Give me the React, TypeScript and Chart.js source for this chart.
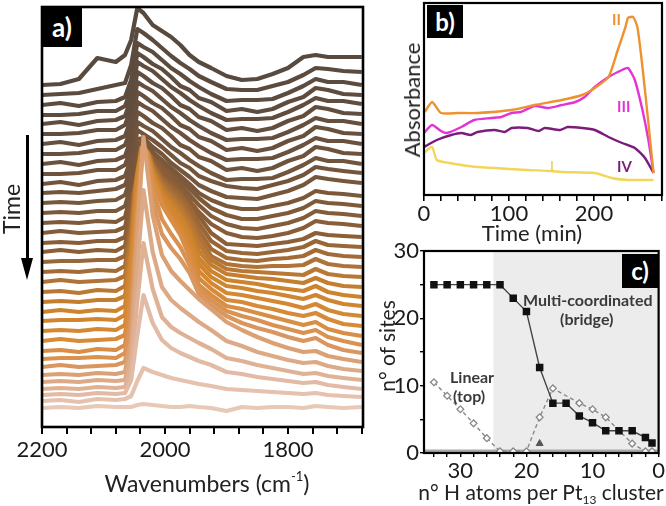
import React, { useEffect, useRef } from "react";
import { Chart, registerables } from "chart.js";
Chart.register(...registerables);

const FONT = "Lato, 'Open Sans', sans-serif";

// ---------- panel a: stacked IR spectra (offset display, arbitrary units) ----------
const wavenumbers = [2200, 2170, 2140, 2110, 2080, 2065, 2055, 2045, 2035, 2020, 2005, 1990, 1975, 1960, 1945, 1925, 1900, 1875, 1850, 1825, 1800, 1775, 1755, 1735, 1710, 1680];

const S0 = [19, 20, 19, 21, 20, 20, 20, 22, 23, 22, 21, 20, 20, 21, 20, 19, 16, 20, 19, 20, 20, 19, 21, 20, 19, 20];
const S1 = [26, 27, 25, 28, 27, 28, 31, 46, 59, 55, 52, 49, 47, 45, 43, 41, 38, 37, 36, 35, 34, 33, 34, 32, 31, 30];
const S2 = [32, 33, 32, 34, 33, 34, 47, 92, 132, 104, 87, 79, 74, 70, 66, 62, 55, 53, 50, 48, 46, 44, 45, 42, 40, 38];
const S3 = [38, 39, 38, 40, 39, 40, 60, 126, 184, 138, 110, 100, 94, 89, 84, 78, 69, 66, 62, 59, 56, 53, 54, 51, 49, 47];
const S4 = [45, 46, 45, 47, 46, 47, 74, 160, 237, 175, 140, 127, 119, 112, 105, 97, 86, 81, 75, 71, 67, 64, 65, 61, 58, 56];
const S5 = [52, 53, 52, 54, 53, 55, 88, 195, 290, 212, 172, 156, 146, 137, 128, 118, 105, 97, 90, 84, 79, 75, 76, 71, 68, 65];
const S6 = [60, 62, 60, 61, 62, 65, 106, 205, 289, 225, 193, 179, 168, 154, 133, 122, 111, 104, 99, 95, 90, 86, 89, 82, 77, 74];
const S7 = [68, 69, 69, 70, 69, 74, 113, 213, 291, 237, 208, 193, 180, 162, 137, 127, 116, 111, 107, 102, 98, 94, 97, 90, 86, 82];
const S8 = [76, 77, 75, 78, 77, 82, 130, 226, 290, 247, 222, 207, 192, 170, 142, 132, 121, 118, 114, 110, 106, 102, 105, 98, 94, 91];
const S9 = [86, 88, 86, 87, 88, 92, 143, 233, 290, 249, 225, 210, 196, 176, 149, 138, 127, 125, 121, 118, 114, 111, 114, 108, 103, 101];
const S10 = [96, 97, 96, 98, 97, 102, 154, 242, 290, 251, 228, 214, 201, 181, 156, 144, 134, 132, 129, 126, 123, 119, 123, 117, 113, 111];
const S11 = [106, 107, 107, 108, 107, 112, 161, 250, 290, 253, 231, 218, 205, 187, 163, 150, 141, 139, 136, 134, 131, 128, 132, 127, 123, 121];
const S12 = [115, 117, 115, 117, 116, 121, 171, 255, 290, 255, 234, 222, 210, 192, 169, 156, 147, 145, 143, 140, 138, 136, 141, 135, 132, 130];
const S13 = [125, 126, 125, 127, 127, 131, 178, 260, 290, 257, 237, 226, 214, 198, 176, 162, 153, 151, 149, 148, 146, 144, 149, 144, 141, 140];
const S14 = [135, 136, 134, 137, 136, 141, 186, 264, 290, 259, 240, 230, 219, 203, 183, 167, 158, 156, 155, 154, 153, 152, 158, 153, 151, 150];
const S15 = [145, 147, 145, 146, 147, 151, 193, 267, 290, 261, 244, 233, 223, 209, 190, 171, 163, 161, 160, 161, 161, 162, 168, 163, 161, 160];
const S16 = [155, 156, 155, 157, 156, 161, 200, 269, 290, 263, 247, 237, 228, 214, 197, 178, 169, 167, 166, 168, 169, 171, 177, 173, 171, 170];
const S17 = [165, 166, 166, 167, 167, 171, 207, 271, 290, 265, 250, 241, 233, 220, 204, 186, 176, 174, 173, 175, 177, 180, 186, 182, 181, 180];
const S18 = [175, 177, 175, 177, 176, 181, 214, 273, 290, 267, 253, 245, 237, 226, 211, 194, 183, 182, 181, 183, 185, 188, 194, 192, 191, 190];
const S19 = [184, 185, 184, 186, 186, 190, 221, 274, 290, 271, 258, 248, 237, 226, 215, 203, 194, 190, 189, 191, 194, 199, 206, 204, 203, 201];
const S20 = [194, 196, 194, 195, 196, 200, 228, 276, 290, 273, 261, 252, 242, 232, 222, 211, 203, 199, 198, 201, 204, 209, 216, 214, 213, 211];
const S21 = [204, 205, 204, 206, 205, 210, 234, 276, 289, 274, 264, 255, 247, 238, 229, 219, 212, 208, 208, 211, 214, 219, 226, 224, 223, 221];
const S22 = [214, 215, 214, 216, 216, 221, 242, 281, 287, 275, 267, 259, 251, 243, 234, 227, 221, 218, 218, 221, 224, 229, 236, 234, 233, 231];
const S23 = [224, 225, 224, 226, 227, 232, 250, 288, 289, 280, 273, 264, 257, 250, 242, 236, 230, 229, 228, 232, 236, 242, 250, 248, 246, 244];
const S24 = [234, 235, 234, 236, 238, 242, 259, 297, 293, 287, 280, 272, 264, 259, 251, 246, 241, 239, 238, 242, 246, 252, 260, 258, 256, 254];
const S25 = [243, 245, 242, 246, 247, 251, 268, 305, 301, 296, 288, 280, 274, 267, 261, 254, 247, 248, 248, 249, 255, 262, 269, 266, 266, 263];
const S26 = [253, 253, 254, 257, 257, 262, 278, 315, 311, 304, 299, 291, 282, 278, 270, 266, 257, 259, 256, 259, 266, 271, 280, 278, 274, 273];
const S27 = [263, 265, 262, 266, 267, 271, 288, 325, 321, 316, 308, 300, 294, 287, 281, 274, 267, 268, 268, 269, 275, 282, 289, 286, 286, 283];
const S28 = [273, 273, 274, 277, 277, 282, 298, 335, 331, 324, 319, 311, 302, 298, 290, 286, 277, 279, 276, 279, 286, 291, 300, 298, 294, 293];
const S29 = [283, 285, 282, 286, 287, 291, 308, 345, 341, 336, 328, 320, 314, 307, 301, 294, 287, 288, 288, 289, 295, 302, 309, 306, 306, 303];
const S30 = [293, 293, 294, 297, 297, 302, 318, 355, 351, 344, 339, 331, 322, 318, 310, 306, 297, 299, 296, 299, 306, 311, 320, 318, 314, 313];
const S31 = [303, 305, 302, 306, 307, 311, 328, 365, 361, 356, 348, 340, 334, 327, 321, 314, 307, 308, 308, 309, 315, 322, 329, 326, 326, 323];
const S32 = [312, 312, 313, 316, 316, 321, 337, 374, 370, 363, 358, 350, 341, 337, 329, 325, 316, 318, 315, 318, 325, 330, 339, 337, 333, 332];
const S33 = [322, 324, 321, 325, 326, 330, 347, 384, 380, 375, 367, 359, 353, 346, 340, 333, 326, 327, 327, 328, 334, 341, 348, 345, 345, 342];
const S34 = [332, 333, 334, 338, 342, 344, 362, 398, 394, 387, 379, 371, 364, 358, 351, 345, 338, 337, 337, 341, 345, 352, 359, 358, 356, 355];
const S35 = [342, 343, 348, 369, 365, 372, 387, 419, 414, 402, 396, 390, 382, 372, 365, 359, 351, 347, 348, 353, 359, 370, 372, 370, 370, 370];

const spectra = [S0, S1, S2, S3, S4, S5, S6, S7, S8, S9, S10, S11, S12, S13, S14, S15, S16, S17, S18, S19, S20, S21, S22, S23, S24, S25, S26, S27, S28, S29, S30, S31, S32, S33, S34, S35];

// drawing layers (first = on top): light late spectra, then dark early ones, then the orange middle ones
const layerOrder = [0, 1, 2, 3, 4, 5, 35, 34, 33, 32, 31, 30, 29, 28, 27, 26, 25, 24, 23, 22, 6, 7, 8, 9, 10, 11, 12, 13, 14, 15, 16, 17, 18, 19, 20, 21];

// colour anchors (spectrum index -> rgb), bottom (light peach) to top (dark brown)
const colorAnchors: [number, number[]][] = [
  [0, [232, 200, 182]],
  [2, [226, 186, 165]],
  [4, [220, 170, 135]],
  [6, [218, 150, 95]],
  [9, [215, 138, 55]],
  [12, [205, 132, 45]],
  [15, [175, 115, 55]],
  [18, [140, 95, 55]],
  [22, [122, 88, 58]],
  [26, [110, 82, 60]],
  [30, [98, 78, 62]],
  [35, [88, 74, 62]],
];

function colorFor(k: number): string {
  for (let i = 0; i < colorAnchors.length - 1; i++) {
    const [k0, c0] = colorAnchors[i];
    const [k1, c1] = colorAnchors[i + 1];
    if (k >= k0 && k <= k1) {
      const t = (k - k0) / (k1 - k0);
      const c = c0.map((v, j) => Math.round(v + (c1[j] - v) * t));
      return `rgb(${c[0]},${c[1]},${c[2]})`;
    }
  }
  return "rgb(88,74,62)";
}

// ---------- panel b: band absorbance vs time ----------
const timeII = [1, 9.5, 20, 40, 63, 103, 130, 162, 186, 201, 217, 228, 237, 240, 246, 251, 257, 264, 270];
const absII = [83, 93, 82, 82, 82, 85, 90, 95, 100, 107, 118, 145, 168, 177, 178, 168, 128, 72, 22];
const timeIII = [0, 9.5, 20, 27, 44, 59, 79, 91, 103, 114, 130, 146, 162, 178, 189, 201, 217, 233, 240, 248, 257, 264, 270];
const absIII = [62, 70, 64, 62, 68, 75, 77, 78, 82, 83, 89, 87, 90, 93, 98, 108, 118, 125, 127, 115, 85, 55, 22];
const timeIV = [0, 15, 32, 44, 55, 63, 83, 95, 103, 122, 135, 142, 160, 169, 186, 201, 217, 233, 248, 260, 270];
const absIV = [48, 55, 60, 62, 60, 63, 65, 63, 67, 67, 64, 67, 65, 68, 67, 65, 58, 52, 47, 37, 22];
const timeI = [0, 9.5, 15, 30, 44, 63, 83, 100, 122, 150, 162, 201, 221, 240, 255, 270];
const absI = [42, 48, 35, 32, 30, 28, 27, 26, 25, 24, 23, 22, 17, 15, 15, 15];

// ---------- panel c: number of sites vs H atoms ----------
const hMulti = [34, 32, 30, 28, 26, 24, 22, 20, 18, 16, 14, 12, 10, 8, 6, 4, 2, 1];
const sitesMulti = [25, 25, 25, 25, 25, 25, 23, 21, 12.7, 7.4, 7.4, 5.5, 4.5, 3.3, 3.3, 3.3, 2.3, 1.5];
const hLinear = [34, 32, 30, 28, 26, 24, 22, 20, 18, 16, 12, 10, 8, 4, 2, 1];
const sitesLinear = [10.5, 8.5, 6.5, 4.4, 2.2, 0.25, 0.25, 0.25, 5.3, 9.6, 7.4, 6.5, 5.3, 1.4, 0.25, 0.25];
const hTriangle = [18];
const sitesTriangle = [1.4];
const shadeFrom = 25;

const pts = (xs: number[], ys: number[]) => xs.map((x, i) => ({ x, y: ys[i] }));

const framePlugin = {
  id: "frame",
  afterDatasetsDraw(chart: any, _args: any, opts: any) {
    const { ctx, chartArea: a } = chart;
    ctx.save();
    ctx.strokeStyle = "#000";
    ctx.lineWidth = opts.width || 2;
    ctx.strokeRect(a.left, a.top, a.right - a.left, a.bottom - a.top);
    ctx.restore();
  },
};

const shadePlugin = {
  id: "shade",
  beforeDatasetsDraw(chart: any) {
    const { ctx, chartArea: a, scales } = chart;
    const x0 = scales.x.getPixelForValue(shadeFrom);
    ctx.save();
    ctx.fillStyle = "#ececec";
    ctx.fillRect(x0, a.top, a.right - x0, a.bottom - a.top);
    ctx.strokeStyle = "#a8a8a8";
    ctx.lineWidth = 3;
    ctx.beginPath();
    ctx.moveTo(a.left, a.bottom - 2);
    ctx.lineTo(a.right, a.bottom - 2);
    ctx.stroke();
    ctx.restore();
  },
};

const tickFont = { family: FONT, size: 22 };

function baseOptions(padding: any) {
  return {
    responsive: false,
    animation: false as const,
    events: [] as any[],
    layout: { padding, autoPadding: false },
  };
}

export default function App() {
  const refA = useRef<HTMLCanvasElement>(null);
  const refB = useRef<HTMLCanvasElement>(null);
  const refC = useRef<HTMLCanvasElement>(null);

  useEffect(() => {
    const chartA = new Chart(refA.current as HTMLCanvasElement, {
      type: "line",
      data: {
        datasets: layerOrder.map((k) => ({
          data: pts(wavenumbers, spectra[k]),
          borderColor: colorFor(k),
          borderWidth: 4.2,
          pointRadius: 0,
          tension: 0,
          fill: false,
          borderJoinStyle: "round" as const,
        })),
      },
      options: {
        ...baseOptions({ left: 42, right: 32, top: 7, bottom: 0 }),
        scales: {
          x: {
            type: "linear",
            min: 1678,
            max: 2200,
            reverse: true,
            border: { display: false },
            grid: { drawOnChartArea: false, drawTicks: true, tickLength: 7, color: "#000", lineWidth: 2 },
            ticks: {
              stepSize: 40,
              includeBounds: false,
              autoSkip: false,
              maxRotation: 0,
              padding: 3,
              color: "#1a1a1a",
              font: tickFont,
              callback: (v: any) => (Number(v) % 200 === 0 ? String(v) : ""),
            },
            afterFit: (s: any) => { s.height = 79; },
          },
          y: { display: false, min: 0, max: 420 },
        },
        plugins: { legend: { display: false }, tooltip: { enabled: false }, frame: { width: 2.6 } } as any,
      } as any,
      plugins: [framePlugin],
    });

    const lineDs = (xs: number[], ys: number[], color: string) => ({
      data: pts(xs, ys),
      borderColor: color,
      borderWidth: 2.4,
      pointRadius: 0,
      tension: 0.2,
      fill: false,
    });

    const chartB = new Chart(refB.current as HTMLCanvasElement, {
      type: "line",
      data: {
        datasets: [
          lineDs(timeII, absII, "#ee9230"),
          lineDs(timeIII, absIII, "#e234d6"),
          lineDs(timeIV, absIV, "#7a1c7a"),
          lineDs(timeI, absI, "#f2d65a"),
        ],
      },
      options: {
        ...baseOptions({ left: 29, right: 4, top: 3, bottom: 0 }),
        scales: {
          x: {
            type: "linear",
            min: 0,
            max: 280,
            border: { display: false },
            grid: { drawOnChartArea: false, drawTicks: true, tickLength: 6, color: "#000", lineWidth: 1.6 },
            ticks: {
              stepSize: 20,
              includeBounds: false,
              autoSkip: false,
              maxRotation: 0,
              padding: 0,
              color: "#1a1a1a",
              font: tickFont,
              callback: (v: any) => (Number(v) % 100 === 0 ? String(v) : ""),
            },
            afterFit: (s: any) => { s.height = 55; },
          },
          y: { display: false, min: 0, max: 192 },
        },
        plugins: { legend: { display: false }, tooltip: { enabled: false }, frame: { width: 2.2 } } as any,
      } as any,
      plugins: [framePlugin],
    });

    const chartC = new Chart(refC.current as HTMLCanvasElement, {
      type: "line",
      data: {
        datasets: [
          {
            data: pts(hMulti, sitesMulti),
            borderColor: "#454545",
            borderWidth: 1.4,
            pointStyle: "rect",
            pointRadius: 5.3,
            pointBackgroundColor: "#111",
            pointBorderColor: "#111",
            pointBorderWidth: 0,
            tension: 0,
            fill: false,
          },
          {
            data: pts(hTriangle, sitesTriangle),
            showLine: false,
            pointStyle: "triangle",
            pointRadius: 4,
            pointBackgroundColor: "#555",
            pointBorderColor: "#555",
            borderColor: "#555",
          },
          {
            data: pts(hLinear, sitesLinear),
            borderColor: "#8a8a8a",
            borderWidth: 1.4,
            borderDash: [4, 3],
            pointStyle: "rectRot",
            pointRadius: 3.4,
            pointBackgroundColor: "#fff",
            pointBorderColor: "#888",
            pointBorderWidth: 1.3,
            tension: 0,
            fill: false,
          },
        ],
      },
      options: {
        ...baseOptions({ left: 0, right: 6, top: 15, bottom: 0 }),
        scales: {
          x: {
            type: "linear",
            min: 0,
            max: 35.5,
            reverse: true,
            border: { display: false },
            grid: { drawOnChartArea: false, drawTicks: true, tickLength: 4, color: "#000", lineWidth: 1.4 },
            ticks: {
              stepSize: 2,
              includeBounds: false,
              autoSkip: false,
              maxRotation: 0,
              padding: 1,
              color: "#1a1a1a",
              font: tickFont,
              callback: (v: any) => (Number(v) % 10 === 0 ? String(v) : ""),
            },
            afterFit: (s: any) => { s.height = 53; },
          },
          y: {
            type: "linear",
            min: 0,
            max: 30,
            border: { display: false },
            grid: { drawOnChartArea: false, drawTicks: true, tickLength: 4, color: "#000", lineWidth: 1.4 },
            ticks: {
              stepSize: 5,
              autoSkip: false,
              padding: 1,
              color: "#1a1a1a",
              font: tickFont,
              callback: (v: any) => (Number(v) % 10 === 0 ? String(v) : ""),
            },
            afterFit: (s: any) => { s.width = 39; },
          },
        },
        plugins: { legend: { display: false }, tooltip: { enabled: false }, frame: { width: 2.2 } } as any,
      } as any,
      plugins: [shadePlugin, framePlugin],
    });

    return () => {
      chartA.destroy();
      chartB.destroy();
      chartC.destroy();
    };
  }, []);

  const abs = (s: React.CSSProperties): React.CSSProperties => ({ position: "absolute", fontFamily: FONT, lineHeight: 1, whiteSpace: "nowrap", ...s });
  const box = (left: number, top: number, w: number, h: number, text: string, size: number) => (
    <div style={abs({ left, top, width: w, height: h, background: "#000", color: "#fff", fontWeight: 700, fontSize: size, display: "flex", alignItems: "center", justifyContent: "center" })}>{text}</div>
  );

  return (
    <div style={{ position: "fixed", left: 0, top: 0, width: 666, height: 506, background: "#fff", overflow: "hidden" }}>
      <canvas ref={refA} width={395} height={506} style={{ position: "absolute", left: 0, top: 0, width: 395, height: 506 }} />
      <canvas ref={refB} width={271} height={250} style={{ position: "absolute", left: 395, top: 0, width: 271, height: 250 }} />
      <canvas ref={refC} width={281} height={270} style={{ position: "absolute", left: 385, top: 236, width: 281, height: 270 }} />

      {box(42, 7, 40, 40, "a)", 26)}
      {box(427, 5, 36, 33, "b)", 24)}
      {box(622, 254, 36, 34, "c)", 24)}

      {/* Time arrow */}
      <div style={abs({ left: 10.5, top: 209, fontSize: 23, color: "#222", transform: "translate(-50%,-50%) rotate(-90deg)" })}>Time</div>
      <div style={{ position: "absolute", left: 25.5, top: 135, width: 3, height: 128, background: "#000" }} />
      <div style={{ position: "absolute", left: 21, top: 258, width: 0, height: 0, borderLeft: "6px solid transparent", borderRight: "6px solid transparent", borderTop: "22px solid #000" }} />

      <div style={abs({ left: 207, top: 483, fontSize: 23, color: "#222", transform: "translate(-50%,-50%)" })}>
        Wavenumbers (cm<sup style={{ fontSize: 13, verticalAlign: "top", position: "relative", top: -2 }}>-1</sup>)
      </div>

      <div style={abs({ left: 412, top: 100, fontSize: 22, color: "#222", transform: "translate(-50%,-50%) rotate(-90deg)" })}>Absorbance</div>
      <div style={abs({ left: 532, top: 233, fontSize: 22, color: "#222", transform: "translate(-50%,-50%)" })}>Time (min)</div>
      <div style={abs({ left: 612, top: 12, fontSize: 15, fontWeight: 700, color: "#ee9230" })}>II</div>
      <div style={abs({ left: 617, top: 99, fontSize: 15, fontWeight: 700, color: "#e234d6" })}>III</div>
      <div style={abs({ left: 617, top: 159, fontSize: 15, fontWeight: 700, color: "#7a1c7a" })}>IV</div>
      <div style={abs({ left: 550, top: 159, fontSize: 14, color: "#e8c840" })}>I</div>

      <div style={abs({ left: 386, top: 346, fontSize: 21, color: "#222", transform: "translate(-50%,-50%) rotate(-90deg)" })}>n° of sites</div>
      <div style={abs({ left: 541, top: 491, fontSize: 21, color: "#222", transform: "translate(-50%,-50%)" })}>
        n° H atoms per Pt<sub style={{ fontSize: 12, position: "relative", top: 4, verticalAlign: "baseline" }}>13</sub> cluster
      </div>
      <div style={abs({ left: 523, top: 292, fontSize: 16, fontWeight: 700, color: "#3a3a3a" })}>Multi-coordinated</div>
      <div style={abs({ left: 560, top: 311, fontSize: 16, fontWeight: 700, color: "#3a3a3a" })}>(bridge)</div>
      <div style={abs({ left: 450, top: 369, fontSize: 16, fontWeight: 700, color: "#3a3a3a" })}>Linear</div>
      <div style={abs({ left: 453, top: 388, fontSize: 16, fontWeight: 700, color: "#3a3a3a" })}>(top)</div>
    </div>
  );
}
